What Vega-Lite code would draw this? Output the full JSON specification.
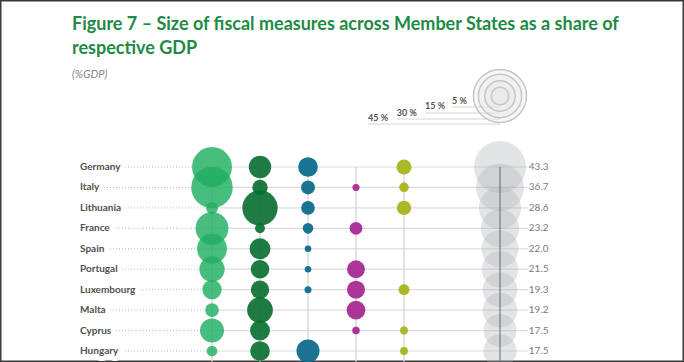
{
  "$schema": "https://vega.github.io/schema/vega-lite/v6.json",
  "width": 684,
  "height": 362,
  "padding": 0,
  "autosize": {"type": "none"},
  "background": "white",
  "config": {
    "view": {"stroke": "#3a3a3a", "strokeWidth": 3},
    "font": "Lato"
  },
  "title": {
    "text": ["Figure 7 – Size of fiscal measures across Member States as a share of", "respective GDP"],
    "subtitle": "(%GDP)",
    "anchor": "start",
    "frame": "group",
    "orient": "top",
    "offset": -80,
    "dx": 72,
    "font": "Lato",
    "fontSize": 18,
    "fontWeight": "bold",
    "color": "#1f8a45",
    "lineHeight": 24,
    "subtitleFont": "Lato",
    "subtitleFontSize": 11,
    "subtitleFontStyle": "italic",
    "subtitleColor": "#858585",
    "subtitlePadding": 11
  },
  "datasets": {
    "states": [
      {"country": "Germany", "lg": 25.5, "dg": 8.0, "teal": 6.2, "purple": 0, "olive": 3.6, "total": 43.3},
      {"country": "Italy", "lg": 27.5, "dg": 3.8, "teal": 3.1, "purple": 0.8, "olive": 1.5, "total": 36.7},
      {"country": "Lithuania", "lg": 2.3, "dg": 20.0, "teal": 3.0, "purple": 0, "olive": 3.3, "total": 28.6},
      {"country": "France", "lg": 17.2, "dg": 1.6, "teal": 1.8, "purple": 2.6, "olive": 0, "total": 23.2},
      {"country": "Spain", "lg": 14.3, "dg": 7.0, "teal": 0.7, "purple": 0, "olive": 0, "total": 22.0},
      {"country": "Portugal", "lg": 10.2, "dg": 5.5, "teal": 0.7, "purple": 5.1, "olive": 0, "total": 21.5},
      {"country": "Luxembourg", "lg": 6.0, "dg": 5.4, "teal": 0.8, "purple": 5.2, "olive": 1.9, "total": 19.3},
      {"country": "Malta", "lg": 3.0, "dg": 10.6, "teal": 0, "purple": 5.6, "olive": 0, "total": 19.2},
      {"country": "Cyprus", "lg": 9.2, "dg": 6.4, "teal": 0, "purple": 0.9, "olive": 1.0, "total": 17.5},
      {"country": "Hungary", "lg": 1.8, "dg": 6.2, "teal": 8.5, "purple": 0, "olive": 1.0, "total": 17.5}
    ],
    "legend": [
      {"v": 45, "label": "45 %"},
      {"v": 30, "label": "30 %"},
      {"v": 15, "label": "15 %"},
      {"v": 5, "label": "5 %"}
    ]
  },
  "data": {"name": "states"},
  "encoding": {
    "y": {
      "field": "country", "type": "nominal", "sort": null,
      "scale": {"type": "point", "padding": 0, "domain": ["Germany", "Italy", "Lithuania", "France", "Spain", "Portugal", "Luxembourg", "Malta", "Cyprus", "Hungary"], "range": [167, 351]},
      "axis": null
    }
  },
  "layer": [
    {
      "mark": {"type": "rule", "color": "#bdbdbd", "strokeWidth": 1, "strokeDash": [1, 2]},
      "encoding": {
        "x": {"datum": -1.75, "type": "quantitative", "scale": {"domain": [-3.4167, 10.8333], "range": [0, 684], "zero": false, "nice": false}, "axis": null},
        "x2": {"datum": 1}
      }
    },
    {
      "mark": {"type": "rule", "color": "#dcdcdc", "strokeWidth": 1.2},
      "encoding": {
        "x": {"datum": 1, "type": "quantitative"},
        "x2": {"datum": 7.58}
      }
    },
    {
      "data": {"values": [{"c": 1}, {"c": 2}, {"c": 3}, {"c": 4}, {"c": 5}]},
      "mark": {"type": "rule", "color": "#d0d0d0", "strokeWidth": 1.2},
      "encoding": {
        "x": {"field": "c", "type": "quantitative"},
        "y": {"datum": "Germany"},
        "y2": {"value": {"expr": "height"}}
      }
    },
    {
      "mark": {"type": "circle", "color": "#1fae62", "opacity": 0.82},
      "encoding": {
        "x": {"datum": 1, "type": "quantitative"},
        "size": {"field": "lg", "type": "quantitative", "scale": {"type": "linear", "domain": [0, 45], "range": [0, 2810], "zero": true}, "legend": null}
      }
    },
    {
      "mark": {"type": "circle", "color": "#066e2f", "opacity": 0.9},
      "encoding": {
        "x": {"datum": 2, "type": "quantitative"},
        "size": {"field": "dg", "type": "quantitative", "scale": {"type": "linear", "domain": [0, 45], "range": [0, 2810], "zero": true}, "legend": null}
      }
    },
    {
      "mark": {"type": "circle", "color": "#0e6e8c", "opacity": 0.95},
      "encoding": {
        "x": {"datum": 3, "type": "quantitative"},
        "size": {"field": "teal", "type": "quantitative", "scale": {"type": "linear", "domain": [0, 45], "range": [0, 2810], "zero": true}, "legend": null}
      }
    },
    {
      "mark": {"type": "circle", "color": "#a62a92", "opacity": 0.95},
      "encoding": {
        "x": {"datum": 4, "type": "quantitative"},
        "size": {"field": "purple", "type": "quantitative", "scale": {"type": "linear", "domain": [0, 45], "range": [0, 2810], "zero": true}, "legend": null}
      }
    },
    {
      "mark": {"type": "circle", "color": "#a6b41c", "opacity": 0.95},
      "encoding": {
        "x": {"datum": 5, "type": "quantitative"},
        "size": {"field": "olive", "type": "quantitative", "scale": {"type": "linear", "domain": [0, 45], "range": [0, 2810], "zero": true}, "legend": null}
      }
    },
    {
      "mark": {"type": "circle", "color": "#a9acb2", "opacity": 0.33},
      "encoding": {
        "x": {"datum": 7, "type": "quantitative"},
        "size": {"field": "total", "type": "quantitative", "scale": {"type": "linear", "domain": [0, 45], "range": [0, 2810], "zero": true}, "legend": null}
      }
    },
    {
      "data": {"values": [{"c": 7}]},
      "mark": {"type": "rule", "color": "#666666", "strokeWidth": 1},
      "encoding": {
        "x": {"field": "c", "type": "quantitative"},
        "y": {"datum": "Germany"},
        "y2": {"value": {"expr": "height"}}
      }
    },
    {
      "mark": {"type": "text", "align": "left", "baseline": "middle", "fontSize": 10, "fontWeight": "bold", "color": "white", "stroke": "white", "strokeWidth": 10, "strokeJoin": "round"},
      "encoding": {
        "x": {"datum": -1.75, "type": "quantitative"},
        "text": {"field": "country"}
      }
    },
    {
      "mark": {"type": "text", "align": "left", "baseline": "middle", "fontSize": 10, "fontWeight": "bold", "color": "#505050"},
      "encoding": {
        "x": {"datum": -1.75, "type": "quantitative"},
        "text": {"field": "country"}
      }
    },
    {
      "mark": {"type": "text", "align": "left", "baseline": "middle", "fontSize": 10, "color": "#7a7a7a"},
      "encoding": {
        "x": {"datum": 7.6, "type": "quantitative"},
        "text": {"field": "total", "type": "quantitative", "format": ".1f"}
      }
    },
    {
      "data": {"name": "legend"},
      "mark": {"type": "rule", "color": "#d6d6d6", "strokeWidth": 1},
      "transform": [{"filter": "datum.v == 45"}],
      "encoding": {"x": {"datum": 4.25, "type": "quantitative"}, "x2": {"datum": 7}, "y": {"datum": "Germany"}, "yOffset": {"value": -43}}
    },
    {
      "data": {"name": "legend"},
      "mark": {"type": "rule", "color": "#d6d6d6", "strokeWidth": 1},
      "transform": [{"filter": "datum.v == 30"}],
      "encoding": {"x": {"datum": 4.85, "type": "quantitative"}, "x2": {"datum": 7}, "y": {"datum": "Germany"}, "yOffset": {"value": -48}}
    },
    {
      "data": {"name": "legend"},
      "mark": {"type": "rule", "color": "#d6d6d6", "strokeWidth": 1},
      "transform": [{"filter": "datum.v == 15"}],
      "encoding": {"x": {"datum": 5.44, "type": "quantitative"}, "x2": {"datum": 7}, "y": {"datum": "Germany"}, "yOffset": {"value": -54}}
    },
    {
      "data": {"name": "legend"},
      "mark": {"type": "rule", "color": "#d6d6d6", "strokeWidth": 1},
      "transform": [{"filter": "datum.v == 5"}],
      "encoding": {"x": {"datum": 6.0, "type": "quantitative"}, "x2": {"datum": 7}, "y": {"datum": "Germany"}, "yOffset": {"value": -60}}
    },
    {
      "data": {"name": "legend"},
      "mark": {"type": "point", "shape": "circle", "filled": true, "fill": "#e6e6e6", "fillOpacity": 0.3, "stroke": "#c6c6c6", "strokeWidth": 1.5},
      "encoding": {
        "x": {"datum": 7, "type": "quantitative"},
        "y": {"datum": "Germany"},
        "yOffset": {"value": -71},
        "size": {"field": "v", "type": "quantitative", "scale": {"type": "linear", "domain": [0, 45], "range": [0, 2810], "zero": true}, "legend": null}
      }
    },
    {
      "data": {"name": "legend"},
      "mark": {"type": "text", "align": "left", "baseline": "middle", "fontSize": 9, "fontWeight": "bold", "color": "#555555"},
      "transform": [{"filter": "datum.v == 45"}],
      "encoding": {"x": {"datum": 4.25, "type": "quantitative"}, "y": {"datum": "Germany"}, "yOffset": {"value": -49}, "text": {"field": "label"}}
    },
    {
      "data": {"name": "legend"},
      "mark": {"type": "text", "align": "left", "baseline": "middle", "fontSize": 9, "fontWeight": "bold", "color": "#555555"},
      "transform": [{"filter": "datum.v == 30"}],
      "encoding": {"x": {"datum": 4.85, "type": "quantitative"}, "y": {"datum": "Germany"}, "yOffset": {"value": -54}, "text": {"field": "label"}}
    },
    {
      "data": {"name": "legend"},
      "mark": {"type": "text", "align": "left", "baseline": "middle", "fontSize": 9, "fontWeight": "bold", "color": "#555555"},
      "transform": [{"filter": "datum.v == 15"}],
      "encoding": {"x": {"datum": 5.44, "type": "quantitative"}, "y": {"datum": "Germany"}, "yOffset": {"value": -61}, "text": {"field": "label"}}
    },
    {
      "data": {"name": "legend"},
      "mark": {"type": "text", "align": "left", "baseline": "middle", "fontSize": 9, "fontWeight": "bold", "color": "#555555"},
      "transform": [{"filter": "datum.v == 5"}],
      "encoding": {"x": {"datum": 6.0, "type": "quantitative"}, "y": {"datum": "Germany"}, "yOffset": {"value": -66}, "text": {"field": "label"}}
    }
  ]
}
